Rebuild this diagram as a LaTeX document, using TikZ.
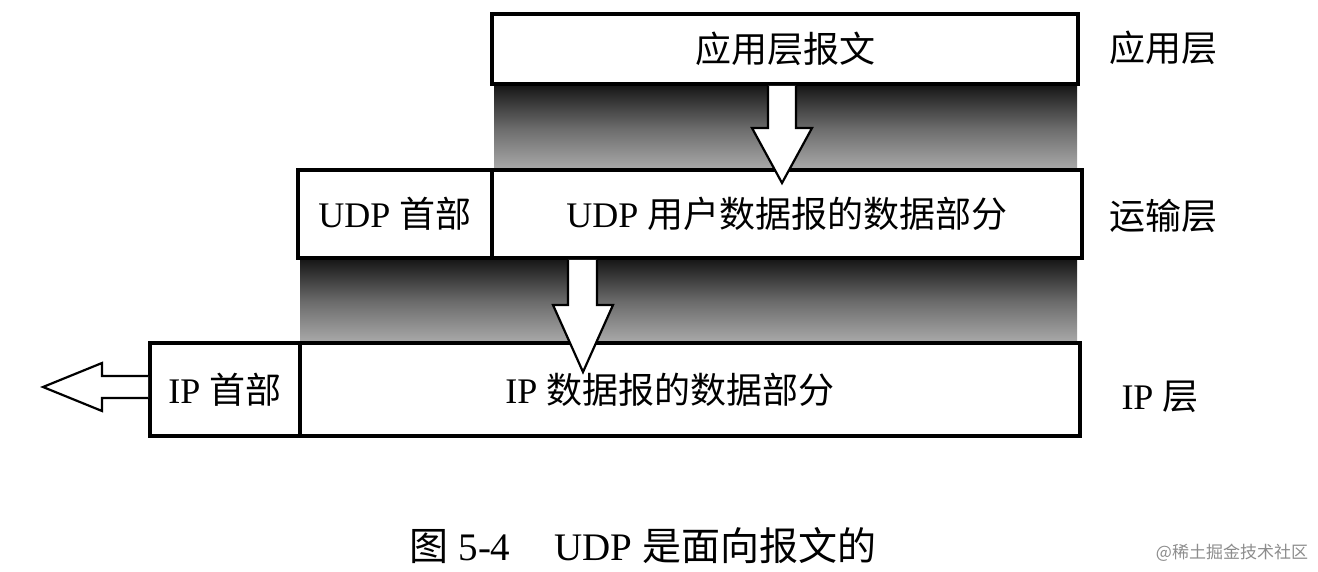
\documentclass[tikz,border=0pt]{standalone}
\usepackage{fontspec}
\setmainfont{Liberation Serif}
\newfontfamily\cjk{Noto Sans CJK SC}
\newfontfamily\wmfont{Noto Sans CJK SC}
\newcommand\zhtxt[1]{{\cjk #1}}
\begin{document}
\begin{tikzpicture}[x=1pt,y=-1pt,
  box/.style={draw, line width=3.5pt, fill=white, inner sep=0pt, outer sep=0pt,
    font=\fontsize{36}{40}\selectfont},
  side/.style={font=\fontsize{36}{40}\selectfont},
  blockarrow/.style={draw, line width=2.2pt, fill=white, line join=miter},
  fade/.style={top color=black!92, bottom color=black!32, middle color=black!58}
]
\useasboundingbox (0,0) rectangle (1318,572);

% gradients (drawn first, behind the boxes)
\shade[fade] (494,84) rectangle (1077,172);
\shade[fade] (300,258) rectangle (1077,345);

% boxes
\node[box, minimum width=586pt, minimum height=70pt] (app) at (785,49) {\zhtxt{应用层报文}};
\node[box, minimum width=194pt, minimum height=88pt] (udph) at (395,214) {UDP \zhtxt{首部}};
\node[box, minimum width=590pt, minimum height=88pt] (udpd) at (787,214) {UDP \zhtxt{用户数据报的数据部分}};
\node[box, minimum width=150pt, minimum height=93pt] (iph) at (225,389.5) {IP \zhtxt{首部}};
\node[box, minimum width=780pt, minimum height=93pt] (ipd) at (690,389.5) {\hspace*{-40pt}IP \zhtxt{数据报的数据部分}};

% layer labels
\node[side] (l1) at (1163,48) {\zhtxt{应用层}};
\node[side] (l2) at (1163,216) {\zhtxt{运输层}};
\node[side] (l3) at (1160,397) {IP \zhtxt{层}};

% block arrows
\draw[blockarrow] (768,86) -- (768,128) -- (752,128) -- (782,183) -- (812,128) -- (796,128) -- (796,86);
\draw[blockarrow] (568,260) -- (568,305) -- (553,305) -- (583,372) -- (613,305) -- (597,305) -- (597,260);
\draw[blockarrow] (148,376) -- (102,376) -- (102,363) -- (43,387) -- (102,411) -- (102,398) -- (148,398);

% caption
\node[font=\fontsize{39}{42}\selectfont] (cap) at (643,546) {\zhtxt{图} 5-4\hspace{44pt}UDP \zhtxt{是面向报文的}};
\node[font=\wmfont\fontsize{17}{19}\selectfont, text=black!45] (wm) at (1232,553) {@稀土掘金技术社区};
\end{tikzpicture}
\end{document}
